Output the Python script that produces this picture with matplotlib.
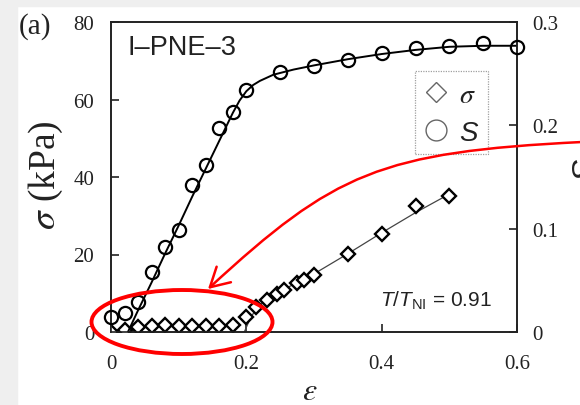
import matplotlib
matplotlib.use('Agg')
import matplotlib.pyplot as plt
from matplotlib.lines import Line2D
from matplotlib.patches import Ellipse, FancyArrowPatch, Rectangle
from matplotlib.path import Path

plt.rcParams['mathtext.fontset'] = 'custom'
plt.rcParams['mathtext.rm'] = 'Liberation Sans'
plt.rcParams['mathtext.it'] = 'Liberation Sans:italic'
plt.rcParams['mathtext.bf'] = 'Liberation Sans:bold'

# S (order parameter, right axis) - circles
eps_S = [0, 0.02, 0.04, 0.06, 0.08, 0.10, 0.12, 0.14, 0.16, 0.18, 0.20,
         0.25, 0.30, 0.35, 0.40, 0.45, 0.50, 0.55, 0.60]
S_vals = [0.015, 0.018, 0.029, 0.058, 0.082, 0.099, 0.142, 0.162, 0.197, 0.213, 0.234,
          0.252, 0.257, 0.263, 0.270, 0.275, 0.277, 0.280, 0.276]
# fitted S curve
eps_S_fit = [0.025, 0.04, 0.06, 0.08, 0.10, 0.12, 0.14, 0.16, 0.18, 0.19, 0.20, 0.21,
             0.22, 0.24, 0.27, 0.30, 0.35, 0.40, 0.45, 0.50, 0.55, 0.60]
S_fit = [0.0, 0.021, 0.048, 0.076, 0.103, 0.131, 0.158, 0.185, 0.212, 0.224, 0.233, 0.239,
         0.243, 0.249, 0.254, 0.258, 0.264, 0.269, 0.273, 0.276, 0.277, 0.277]

# stress (left axis) - diamonds
eps_sig = [0, 0.02, 0.04, 0.06, 0.08, 0.10, 0.12, 0.14, 0.16, 0.18, 0.20, 0.215,
           0.23, 0.245, 0.255, 0.275, 0.285, 0.30, 0.35, 0.40, 0.45, 0.50]
sig_vals = [0.0, 0.6, 1.3, 1.6, 1.8, 1.6, 1.6, 1.6, 1.6, 1.8, 4.0, 6.5,
            8.3, 9.8, 10.8, 12.7, 13.5, 14.8, 20.2, 25.3, 32.5, 35.2]
# fitted stress line
eps_sig_fit = [0.197, 0.205, 0.215, 0.23, 0.25, 0.30, 0.35, 0.40, 0.45, 0.50]
sig_fit = [0.0, 3.2, 6.2, 8.4, 10.5, 15.0, 20.2, 25.6, 30.8, 35.6]

x_ticks = [0, 0.2, 0.4, 0.6]
x_labels = ['0', '0.2', '0.4', '0.6']
y_ticks = [0, 20, 40, 60, 80]
y_labels = ['0', '20', '40', '60', '80']
y2_ticks = [0, 0.1, 0.2, 0.3]
y2_labels = ['0', '0.1', '0.2', '0.3']

W, H = 580, 406
fig = plt.figure(figsize=(5.8, 4.06), dpi=100)
fig.patches.append(Rectangle((0, 0), 17 / W, 1, transform=fig.transFigure,
                             color='#efefef', zorder=-5))
fig.patches.append(Rectangle((0, 1 - 7 / H), 1, 7 / H, transform=fig.transFigure,
                             color='#efefef', zorder=-5))

ax = fig.add_axes([111 / W, 1 - 333 / H, 406 / W, 310 / H])
ax2 = ax.twinx()

ax.plot(eps_sig_fit, sig_fit, color='#444444', lw=0.9, zorder=2)
ax.plot(eps_sig, sig_vals, ls='none', marker='D', ms=7.5, mfc='white', mec='black',
        mew=1.7, zorder=3)
ax2.plot(eps_S_fit, S_fit, color='black', lw=1.4, zorder=2)
ax2.plot(eps_S, S_vals, ls='none', marker='o', ms=9.5, mfc='none', mec='black',
         mew=1.6, zorder=3, clip_on=False)

ax.set_xlim(0, 0.6)
ax.set_ylim(0, 80)
ax2.set_ylim(0, 0.3)
ax.set_xticks(x_ticks)
ax.set_xticklabels(x_labels)
ax.set_yticks(y_ticks)
ax.set_yticklabels(y_labels)
ax2.set_yticks(y2_ticks)
ax2.set_yticklabels(y2_labels)

for a in (ax, ax2):
    for sp in a.spines.values():
        sp.set_linewidth(1.2)
        sp.set_color('#222222')
    for lab in a.get_xticklabels() + a.get_yticklabels():
        lab.set_family('Liberation Serif')
        lab.set_fontsize(15)
        lab.set_color('#222222')
ax.tick_params(axis='both', direction='in', length=6, width=1.2, color='#222222')
ax.tick_params(axis='x', pad=16)
ax.tick_params(axis='y', pad=12)
ax2.tick_params(axis='y', direction='in', length=6, width=1.2, pad=11, color='#222222')

# texts
ax.text(0.04, 0.919, 'I\u2013PNE\u20133', transform=ax.transAxes, family='Liberation Sans',
        fontsize=19.5, va='center', ha='left', color='#222222')
ax.text(0.663, 0.105, r'$T/T_{\mathrm{NI}}$ = 0.91', transform=ax.transAxes,
        family='Liberation Sans', fontsize=15, va='center', ha='left', color='#222222')

fig.text(35 / W, 1 - 27 / H, '(a)', family='Liberation Serif', fontsize=21,
         ha='center', va='center', color='#222222')
fig.text(46 / W, 1 - 175 / H, r'$\sigma$ (kPa)', rotation=90, family='Liberation Serif',
         fontsize=27, ha='center', va='center', math_fontfamily='stix', color='#222222')
fig.text(310 / W, 1 - 393 / H, r'$\varepsilon$', family='Liberation Serif', fontsize=23,
         ha='center', va='center', math_fontfamily='stix', color='#222222')
fig.text(586 / W, 1 - 170 / H, r'$S$', rotation=90, fontsize=24,
         ha='center', va='center', color='#222222')

# legend
handles = [Line2D([], [], ls='none', marker='D', ms=10, mfc='none', mec='#666666', mew=1.0),
           Line2D([], [], ls='none', marker='o', ms=15, mfc='none', mec='#666666', mew=1.0)]
leg = ax2.legend(handles, [r'$\sigma$', r'$S$'], loc='upper left',
                 bbox_to_anchor=(0.749, 0.842), fontsize=20, frameon=True, fancybox=False,
                 handlelength=0.9, handletextpad=0.35, borderpad=0.32, labelspacing=0.35,
                 borderaxespad=0)
leg.get_frame().set_linestyle((0, (1, 1)))
leg.get_frame().set_edgecolor('#888888')
leg.get_frame().set_linewidth(0.9)
leg.get_texts()[0].set_math_fontfamily('stix')
for t in leg.get_texts():
    t.set_color('#222222')

# red annotations: ellipse and curved arrow (pixel positions of the sketch)
fig.add_artist(Ellipse((182 / W, 1 - 323 / H), 181 / W, 64 / H, transform=fig.transFigure,
                       fill=False, edgecolor='red', lw=2.8, zorder=10))
arrow_px = [(582, 143), (380, 153), (334, 174), (208, 290)]
arrow_path = Path([(x / W, 1 - y / H) for x, y in arrow_px],
                  [Path.MOVETO, Path.CURVE4, Path.CURVE4, Path.CURVE4])
fig.add_artist(FancyArrowPatch(path=arrow_path, transform=fig.transFigure,
                               arrowstyle='->,head_length=0.68,head_width=0.38',
                               mutation_scale=20, color='red', lw=1.8, zorder=10))

fig.savefig('out.png', dpi=100)
